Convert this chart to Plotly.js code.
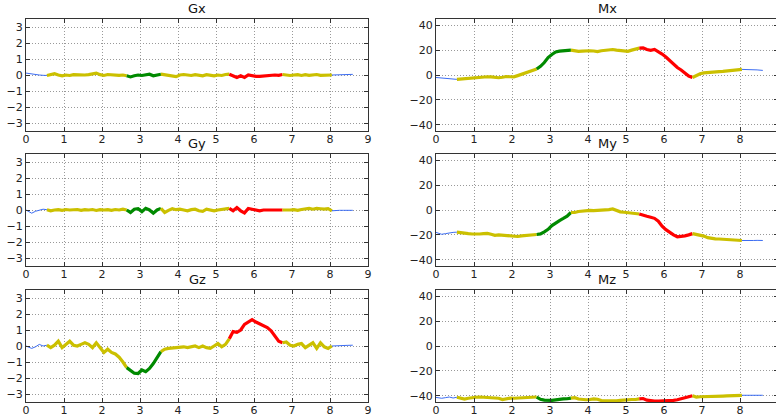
<!DOCTYPE html>
<html>
<head>
<meta charset="utf-8">
<script src="https://cdn.plot.ly/plotly-3.0.1.min.js"></script>
<style>
html,body{margin:0;padding:0;overflow:hidden;background:#fff;width:776px;height:417px;}
#chart{width:780px;height:417px;}
</style>
</head>
<body>
<div id="chart"></div>
<script>
// sample times (s)
const t = [0,0.15,0.25,0.35,0.45,0.55,0.65,0.75,0.85,0.95,1.05,1.15,1.25,1.35,1.45,1.55,1.65,1.75,1.85,1.95,
2.05,2.15,2.25,2.35,2.45,2.55,2.65,2.75,2.85,2.95,3.05,3.15,3.25,3.35,3.45,3.55,3.65,3.75,3.85,3.95,
4.05,4.15,4.25,4.35,4.45,4.55,4.65,4.75,4.85,4.95,5.05,5.15,5.25,5.35,5.45,5.55,5.65,5.75,5.85,5.95,
6.05,6.15,6.25,6.35,6.45,6.55,6.65,6.75,6.85,6.95,7.05,7.15,7.25,7.35,7.45,7.55,7.65,7.75,7.85,7.95,
8.05,8.15,8.25,8.35,8.45,8.6];

const Gx = [0.12,0.05,0,0,-0.02,-0.03,0.05,0.08,0,-0.05,0,-0.03,0.02,0,0.03,0,0.02,0.05,0.12,0.02,
-0.03,0.03,0,0.02,-0.02,0,-0.05,-0.12,-0.05,0,-0.03,0.03,0.05,-0.05,0,0.05,0,-0.05,-0.08,-0.1,
0,0.03,0,-0.03,0.02,0,-0.05,0.02,-0.02,-0.05,0,-0.03,0.03,0.05,-0.05,-0.15,-0.05,-0.15,0,-0.05,
-0.08,-0.08,-0.05,-0.02,-0.03,0,-0.02,0.03,0,-0.03,0,0.02,-0.03,0.02,-0.02,0,0.03,-0.02,0,0,
0,0,0,0.02,0.03,0.04];

const Gy = [0,-0.2,-0.08,-0.02,0.05,0.02,-0.05,0,0.02,-0.02,0.03,0,0.02,0.03,-0.02,0.02,0,0.03,-0.03,0.02,
0,0.02,-0.02,0.03,0,0.05,0,-0.15,0.05,0.08,-0.1,0.1,0,-0.2,0,0.1,-0.15,-0.02,0.08,0.02,
0.05,0,-0.05,0.02,0.05,-0.05,-0.08,0.05,0.02,-0.05,0,0.03,0.05,0.1,-0.05,0.15,-0.05,-0.18,0.1,0.05,
-0.02,-0.05,0,0,0.02,0,0,0,-0.02,0,0.02,-0.02,0.03,0.05,0.1,0.05,0.1,0.08,0.05,0.08,
-0.05,-0.02,-0.02,-0.02,-0.02,-0.02];

const Gz = [0,-0.15,-0.05,0.1,0,0.05,-0.1,0.05,0.3,-0.1,0.1,0.3,0.05,0,0.1,0.2,0.1,-0.1,0.2,-0.1,
-0.4,-0.2,-0.4,-0.5,-0.7,-1.0,-1.35,-1.55,-1.7,-1.72,-1.5,-1.6,-1.4,-1.1,-0.75,-0.35,-0.2,-0.15,-0.12,-0.1,
-0.05,-0.05,-0.1,-0.05,0,-0.1,0,-0.1,-0.15,0,0.15,-0.05,0.1,0.45,0.9,0.85,1.0,1.35,1.5,1.65,
1.5,1.4,1.3,1.15,0.95,0.6,0.3,0.2,0.25,0.05,0,0.1,0.15,-0.1,0.05,0.2,-0.15,0.2,-0.05,-0.15,
0,0.02,0.03,0.03,0.04,0.05];

const Mx = [-2.0,-2.5,-2.8,-3.0,-3.3,-3.5,-3.2,-3.0,-2.6,-2.4,-2.0,-2.0,-1.6,-1.4,-1.5,-2.0,-2.2,-1.8,-1.2,-1.4,
-1.5,-0.5,0.5,1.5,2.5,3.3,4.8,7.0,10.0,14.0,16.5,18.5,19.2,19.5,19.8,20.0,19.5,19.0,19.2,19.5,
19.5,19.3,18.8,19.5,20.0,20.2,20.5,20.0,19.8,19.3,19.0,20.0,20.5,21.6,21.8,20.5,19.8,20.5,18.8,16.8,
14.5,11.8,8.5,6.0,4.0,1.5,-0.8,-2.0,-0.5,1.0,1.7,1.8,2.0,2.3,2.7,2.9,3.1,3.4,3.8,4.2,
4.5,4.5,4.4,4.3,4.1,3.7];

const My = [-18.0,-19.5,-19.0,-18.2,-18.0,-17.8,-18.3,-19.0,-19.0,-19.3,-19.5,-19.3,-19.0,-18.8,-19.5,-20.3,-20.0,-20.3,-20.3,-20.5,
-21.0,-21.3,-20.8,-20.5,-20.3,-20.0,-19.7,-19.2,-17.5,-15.5,-12.5,-10.2,-8.5,-6.8,-5.0,-2.0,-2.0,-1.2,-0.8,-0.3,
-0.3,-0.5,-0.3,-0.6,-0.2,0.3,0.8,-0.3,-1.5,-1.8,-2.0,-2.5,-2.8,-3.2,-3.8,-5.0,-5.8,-6.7,-9.0,-13.0,
-15.8,-18.0,-20.0,-21.5,-21.3,-20.8,-20.0,-19.0,-19.5,-20.2,-21.0,-22.2,-22.8,-23.2,-23.3,-23.5,-23.7,-23.9,-24.0,-24.4,
-24.5,-24.3,-24.4,-24.5,-24.4,-24.5];

const Mz = [-41.3,-42.0,-41.5,-41.0,-41.8,-41.2,-41.8,-42.7,-42.0,-41.3,-41.2,-41.0,-41.2,-41.0,-41.0,-41.3,-42.0,-43.0,-42.3,-41.9,
-42.0,-41.9,-41.9,-41.8,-41.6,-41.5,-41.0,-42.8,-43.5,-43.7,-43.7,-43.3,-42.7,-42.5,-42.4,-41.9,-41.5,-42.6,-43.0,-43.2,
-43.0,-42.5,-42.8,-43.8,-44.0,-44.2,-44.3,-44.0,-43.7,-43.3,-43.2,-43.0,-43.0,-42.5,-42.2,-43.5,-44.0,-44.2,-44.3,-44.3,
-44.2,-44.0,-43.7,-43.2,-42.5,-41.8,-40.7,-40.0,-41.0,-40.8,-40.8,-40.6,-40.5,-40.4,-40.3,-40.2,-40.1,-40.0,-39.9,-39.7,
-39.6,-39.5,-39.6,-39.5,-39.6,-39.6];

// phases: index boundaries into t, and phase labels
const phaseBounds = [0, 5, 26, 35, 53, 67, 80, 85];
const phaseNames = ['idle', 'steady', 'turnA', 'steady', 'turnB', 'steady', 'idle'];

const channelNames = ['Gx', 'Mx', 'Gy', 'My', 'Gz', 'Mz'];
const channelData = [Gx, Mx, Gy, My, Gz, Mz];
const xTicks = [0,1,2,3,4,5,6,7,8,9];
const gTicks = [-3,-2,-1,0,1,2,3];
const mTicks = [-40,-20,0,20,40];

const phaseStyle = {
  idle:   {color: '#3b6cf2', width: 1},
  steady: {color: '#cbc000', width: 3.2},
  turnA:  {color: '#008a00', width: 3.2},
  turnB:  {color: '#ff0000', width: 3.2}
};

const W = 780, H = 417;
const colPx = [[26, 368], [436, 778]];
const rowPx = [[19, 131], [154, 266], [290, 402]];

const traces = [];
const layout = {
  width: W, height: H,
  margin: {l: 0, r: 0, t: 0, b: 0},
  paper_bgcolor: '#fff', plot_bgcolor: '#fff',
  showlegend: false,
  font: {family: 'DejaVu Sans, sans-serif', size: 11, color: '#222'},
  annotations: []
};

channelNames.forEach((name, i) => {
  const col = i % 2, row = Math.floor(i / 2);
  const n = i + 1;
  const xa = 'x' + (n === 1 ? '' : n), ya = 'y' + (n === 1 ? '' : n);
  const data = channelData[i];
  for (let p = 0; p < phaseNames.length; p++) {
    const a = phaseBounds[p], b = phaseBounds[p + 1];
    const st = phaseStyle[phaseNames[p]];
    traces.push({
      type: 'scatter', mode: 'lines',
      x: t.slice(a, b + 1), y: data.slice(a, b + 1),
      xaxis: xa, yaxis: ya,
      line: {color: st.color, width: st.width},
      hoverinfo: 'skip'
    });
  }
  const isG = col === 0;
  const xd = [colPx[col][0] / W, colPx[col][1] / W];
  const yd = [1 - rowPx[row][1] / H, 1 - rowPx[row][0] / H];
  const axCommon = {
    showline: true, mirror: 'allticks', linecolor: '#333', linewidth: 1,
    ticks: 'inside', ticklen: 4, tickcolor: '#333',
    showgrid: true, gridcolor: '#999', griddash: '1px,2px', gridwidth: 1,
    zeroline: false, fixedrange: true,
    tickfont: {family: 'DejaVu Sans, sans-serif', size: 11, color: '#222'}
  };
  layout['xaxis' + (n === 1 ? '' : n)] = Object.assign({}, axCommon, {
    domain: xd, anchor: ya, range: [0, 9],
    tickmode: 'array', tickvals: xTicks, ticktext: xTicks.map(String),
    ticklabelstandoff: -2
  });
  const yt = isG ? gTicks : mTicks;
  layout['yaxis' + (n === 1 ? '' : n)] = Object.assign({}, axCommon, {
    domain: yd, anchor: xa, range: isG ? [-3.5, 3.5] : [-45, 45],
    tickmode: 'array', tickvals: yt, ticktext: yt.map(v => v < 0 ? '\u2212' + Math.abs(v) : String(v))
  });
  layout.annotations.push({
    text: name, showarrow: false,
    xref: 'paper', yref: 'paper',
    x: (xd[0] + xd[1]) / 2, y: yd[1], yanchor: 'bottom', xanchor: 'center', yshift: 1,
    font: {family: 'DejaVu Sans, sans-serif', size: 13, color: '#111'}
  });
});

Plotly.newPlot('chart', traces, layout, {displayModeBar: false, staticPlot: true});
</script>
</body>
</html>
